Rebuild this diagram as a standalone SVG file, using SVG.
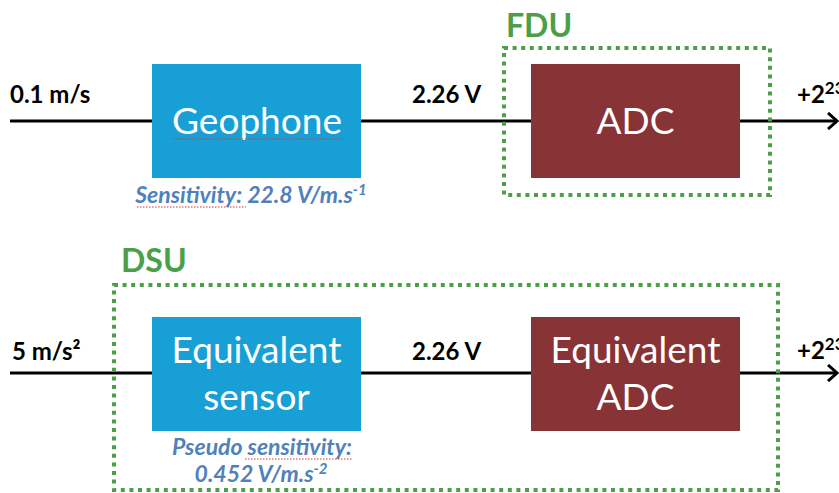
<svg xmlns="http://www.w3.org/2000/svg" width="839" height="493" viewBox="0 0 839 493">
<defs>
<style>
.lbl{font-family:Lato,"Liberation Sans",sans-serif;font-weight:bold;font-size:24px;fill:#000}
.box{font-family:Lato,"Liberation Sans",sans-serif;font-size:37px;fill:#fff;text-anchor:middle}
.grp{font-family:Lato,"Liberation Sans",sans-serif;font-weight:bold;font-size:32px;fill:#4c9f48}
.sens{font-family:Lato,"Liberation Sans",sans-serif;font-weight:bold;font-style:italic;font-size:23px;fill:#4f81bd;text-anchor:middle}
.wire{stroke:#000;stroke-width:3;fill:none}
.dot{fill:none;stroke:#4c9f48;stroke-width:4;stroke-dasharray:4 4.6}
.spell{stroke:#e03030;stroke-width:1;stroke-dasharray:1.5 1.5;fill:none}
</style>
<marker id="arr" markerWidth="12" markerHeight="18" refX="10" refY="9" orient="auto" markerUnits="userSpaceOnUse">
<path d="M1,1 L10,9 L1,17" fill="none" stroke="#000" stroke-width="3"/>
</marker>
</defs>
<rect width="839" height="493" fill="#fff"/>
<g id="connectors">
<line class="wire" x1="10" y1="121" x2="152" y2="121"/>
<line class="wire" x1="361" y1="121" x2="531" y2="121"/>
<line class="wire" x1="740" y1="121" x2="837" y2="121" marker-end="url(#arr)"/>
<line class="wire" x1="10" y1="373" x2="152" y2="373"/>
<line class="wire" x1="361" y1="373" x2="531" y2="373"/>
<line class="wire" x1="740" y1="373" x2="837" y2="373" marker-end="url(#arr)"/>
</g>
<g id="fdu">
<rect class="dot" x="504" y="48" width="266" height="147"/>
<text class="grp" x="506" y="37">FDU</text>
</g>
<g id="dsu">
<rect class="dot" x="114" y="285" width="664" height="205"/>
<text class="grp" x="121" y="272">DSU</text>
</g>
<g id="geophone">
<rect x="152" y="64" width="209" height="114" fill="#189fd6"/>
<text class="box" x="257" y="134">Geophone</text>
<path class="spell" d="M173,139 H342"/>
</g>
<g id="adc">
<rect x="531" y="64" width="209" height="114" fill="#883335"/>
<text class="box" x="635.5" y="134">ADC</text>
</g>
<g id="equivalent-sensor">
<rect x="152" y="317" width="209" height="114" fill="#189fd6"/>
<text class="box" x="256.5" y="363">Equivalent</text>
<text class="box" x="256.5" y="410">sensor</text>
</g>
<g id="equivalent-adc">
<rect x="531" y="317" width="209" height="114" fill="#883335"/>
<text class="box" x="635.5" y="363">Equivalent</text>
<text class="box" x="635.5" y="410">ADC</text>
</g>
<g id="labels">
<text class="lbl" x="10" y="103">0.1 m/s</text>
<text class="lbl" x="412" y="103">2.26 V</text>
<text class="lbl" x="797" y="103">+2<tspan font-size="17" dy="-9">23</tspan></text>
<text class="lbl" x="12" y="360">5 m/s²</text>
<text class="lbl" x="412" y="360">2.26 V</text>
<text class="lbl" x="797" y="359">+2<tspan font-size="17" dy="-9">23</tspan></text>
<text class="sens" x="251" y="203">Sensitivity: 22.8 V/m.s<tspan font-size="15" dy="-8">-1</tspan></text>
<path class="spell" d="M137,207 H246"/>
<text class="sens" x="262" y="455">Pseudo sensitivity:</text>
<path class="spell" d="M245,459 H352"/>
<text class="sens" x="261" y="482">0.452 V/m.s<tspan font-size="15" dy="-8">-2</tspan></text>
</g>
</svg>
